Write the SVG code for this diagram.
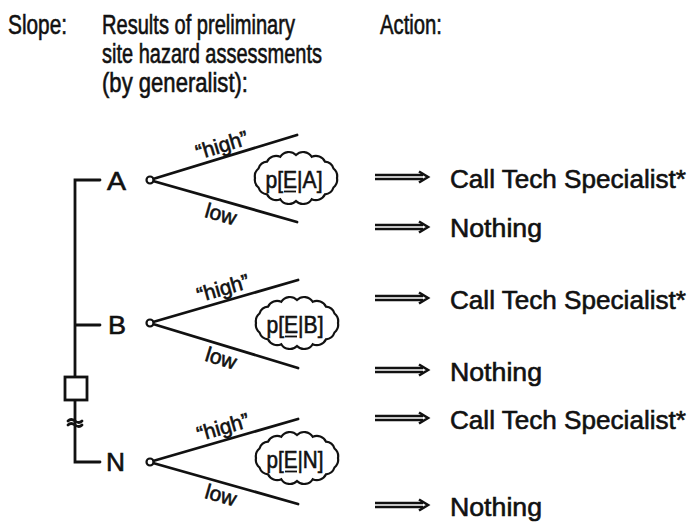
<svg xmlns="http://www.w3.org/2000/svg" width="692" height="526" viewBox="0 0 692 526">
<style>
text{font-family:"Liberation Sans",Arial,sans-serif;fill:#111;stroke:#111;stroke-width:0.6}
.h{font-size:27px}
.lab{font-size:26px}
.act{font-size:26px}
.br{font-size:21px}
.p{font-size:24px}
.ln{stroke:#111;stroke-width:2.8;fill:none;stroke-linecap:round}
.ul{stroke:#111;stroke-width:1.8}
.cl{stroke:#111;stroke-width:2.2;fill:#fff}
.ar{stroke:#111;stroke-width:2.6;fill:none}
</style>
<defs>
<path id="cloud" class="cl" d="M41,0 A10,10 0 0 1 37.5,9.5 A10,10 0 0 1 29,16.3 A10,10 0 0 1 15.7,21.2 A10,10 0 0 1 0,23 A10,10 0 0 1 -15.7,21.2 A10,10 0 0 1 -29,16.3 A10,10 0 0 1 -37.5,9.5 A10,10 0 0 1 -41,0 A10,10 0 0 1 -37.5,-9.5 A10,10 0 0 1 -29,-16.3 A10,10 0 0 1 -15.7,-21.2 A10,10 0 0 1 0,-23 A10,10 0 0 1 15.7,-21.2 A10,10 0 0 1 29,-16.3 A10,10 0 0 1 37.5,-9.5 A10,10 0 0 1 41,0 Z"/>
<g id="dbl" class="ar">
<path d="M375,-2 H423 M375,2 H423"/>
<path d="M419,-5.5 L428,0 L419,5.5" stroke-width="2.6"/>
</g>
</defs>

<g id="headers">
<text class="h" x="8" y="34" textLength="59" lengthAdjust="spacingAndGlyphs">Slope:</text>
<text class="h" x="102" y="34" textLength="193" lengthAdjust="spacingAndGlyphs">Results of preliminary</text>
<text class="h" x="102" y="63" textLength="220" lengthAdjust="spacingAndGlyphs">site hazard assessments</text>
<text class="h" x="102" y="92" textLength="146" lengthAdjust="spacingAndGlyphs">(by generalist):</text>
<text class="h" x="380" y="34" textLength="62" lengthAdjust="spacingAndGlyphs">Action:</text>
</g>

<g id="connectors">
<path class="ln" d="M100,180 H75 V377 M75,400 V462 H100 M75,325 H100"/>
<path class="ln" stroke-width="1.8" d="M68,421 q3,-3 7,0 t7,0 M68,425 q3,-3 7,0 t7,0"/>
<path class="ln" d="M153,179 L297,135 M153,181 L297,222"/>
<path class="ln" d="M153,322 L298,280 M153,324 L298,368"/>
<path class="ln" d="M153,461 L298,419 M153,463 L298,504"/>
</g>

<g id="node-square">
<rect x="65" y="377" width="22" height="23" fill="#fff" stroke="#111" stroke-width="2.8"/>
</g>

<g id="node-A">
<text class="lab" x="107" y="190" textLength="19" lengthAdjust="spacingAndGlyphs">A</text>
<circle cx="150" cy="180" r="3.5" fill="#fff" stroke="#111" stroke-width="2.2"/>
<text class="br" transform="translate(224,152) rotate(-17)" text-anchor="middle">“high”</text>
<text class="br" transform="translate(219,221) rotate(16)" text-anchor="middle">low</text>
<use href="#cloud" transform="translate(296,178)"/>
<text class="p" x="294" y="188" text-anchor="middle" textLength="57" lengthAdjust="spacingAndGlyphs">p[E|A]</text>
<line class="ul" x1="284" y1="191.5" x2="296" y2="191.5"/>
</g>

<g id="node-B">
<text class="lab" x="108" y="334" textLength="18" lengthAdjust="spacingAndGlyphs">B</text>
<circle cx="150" cy="323" r="3.5" fill="#fff" stroke="#111" stroke-width="2.2"/>
<text class="br" transform="translate(225,295) rotate(-16)" text-anchor="middle">“high”</text>
<text class="br" transform="translate(219,365) rotate(17)" text-anchor="middle">low</text>
<use href="#cloud" transform="translate(297,323)"/>
<text class="p" x="295" y="333" text-anchor="middle" textLength="57" lengthAdjust="spacingAndGlyphs">p[E|B]</text>
<line class="ul" x1="285" y1="336.5" x2="297" y2="336.5"/>
</g>

<g id="node-N">
<text class="lab" x="106" y="471" textLength="19" lengthAdjust="spacingAndGlyphs">N</text>
<circle cx="150" cy="462" r="3.5" fill="#fff" stroke="#111" stroke-width="2.2"/>
<text class="br" transform="translate(225,434) rotate(-16)" text-anchor="middle">“high”</text>
<text class="br" transform="translate(219,502) rotate(16)" text-anchor="middle">low</text>
<use href="#cloud" transform="translate(297,458)"/>
<text class="p" x="295" y="468" text-anchor="middle" textLength="57" lengthAdjust="spacingAndGlyphs">p[E|N]</text>
<line class="ul" x1="285" y1="471.5" x2="297" y2="471.5"/>
</g>

<g id="actions">
<use href="#dbl" transform="translate(0,177)"/>
<text class="act" x="450" y="188" textLength="236" lengthAdjust="spacingAndGlyphs">Call Tech Specialist*</text>
<use href="#dbl" transform="translate(0,227)"/>
<text class="act" x="450" y="237" textLength="92" lengthAdjust="spacingAndGlyphs">Nothing</text>
<use href="#dbl" transform="translate(0,298)"/>
<text class="act" x="450" y="309" textLength="236" lengthAdjust="spacingAndGlyphs">Call Tech Specialist*</text>
<use href="#dbl" transform="translate(0,370)"/>
<text class="act" x="450" y="381" textLength="92" lengthAdjust="spacingAndGlyphs">Nothing</text>
<use href="#dbl" transform="translate(0,418)"/>
<text class="act" x="450" y="429" textLength="236" lengthAdjust="spacingAndGlyphs">Call Tech Specialist*</text>
<use href="#dbl" transform="translate(0,505)"/>
<text class="act" x="450" y="516" textLength="92" lengthAdjust="spacingAndGlyphs">Nothing</text>
</g>
</svg>
